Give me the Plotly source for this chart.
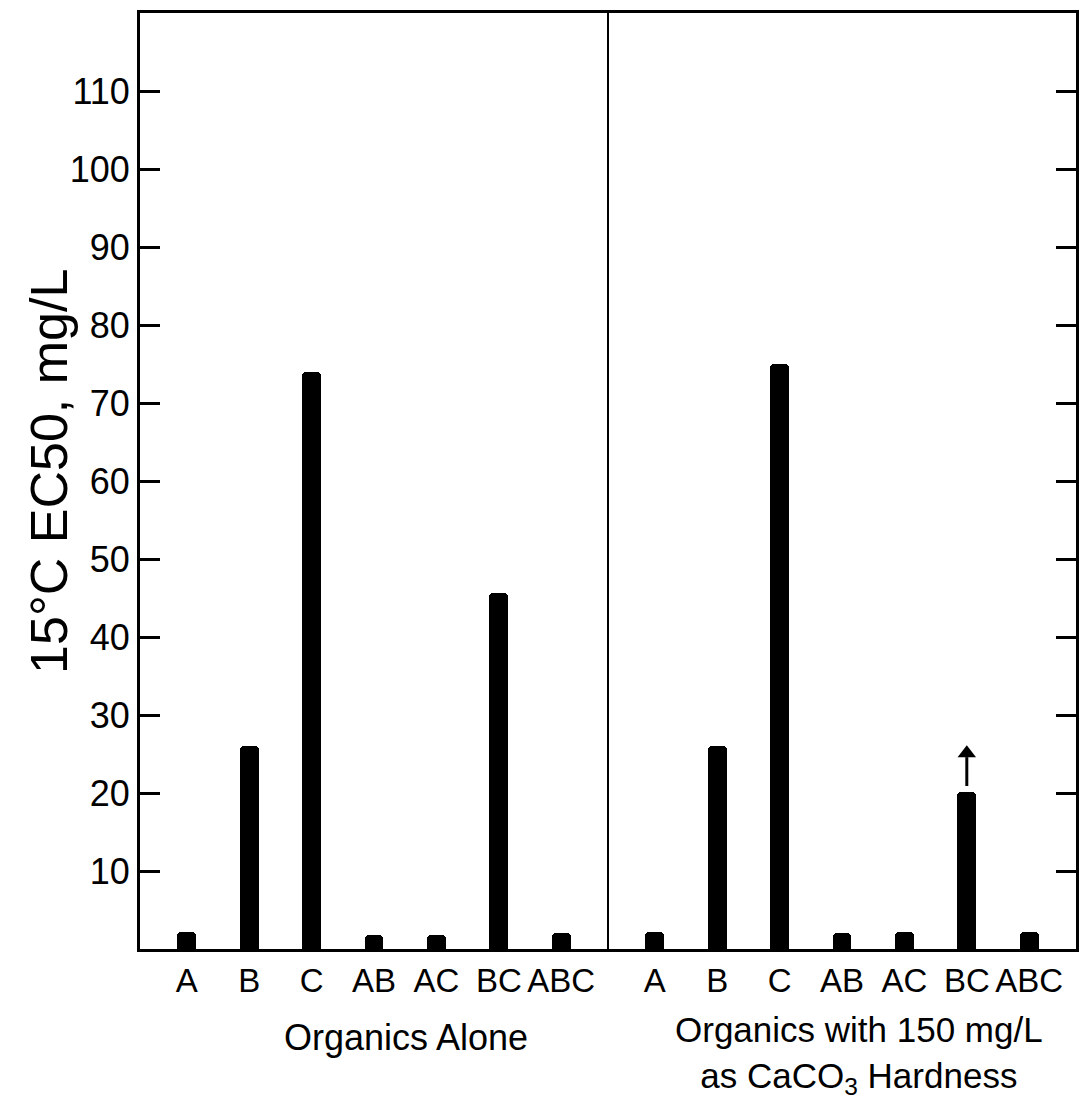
import plotly.graph_objects as go

categories = ["A", "B", "C", "AB", "AC", "BC", "ABC"]
organics_alone = [2.2, 26.0, 74.0, 1.8, 1.8, 45.7, 2.1]
organics_hardness = [2.2, 26.0, 75.0, 2.1, 2.2, 20.1, 2.2]
y_ticks = [10, 20, 30, 40, 50, 60, 70, 80, 90, 100, 110]
group_labels = ["Organics Alone", "Organics with 150 mg/L<br>as CaCO<sub>3</sub> Hardness"]
y_title = "15°C EC50, mg/L"

FONT = "Liberation Sans"

x_left = [i + 0.75 for i in range(len(categories))]
x_right = [i + 8.25 for i in range(len(categories))]

fig = go.Figure()
fig.add_trace(go.Bar(x=x_left, y=organics_alone, width=0.3,
                     marker=dict(color="black", line=dict(width=0), cornerradius=4),
                     showlegend=False, hoverinfo="skip"))
fig.add_trace(go.Bar(x=x_right, y=organics_hardness, width=0.3,
                     marker=dict(color="black", line=dict(width=0), cornerradius=4),
                     showlegend=False, hoverinfo="skip"))

# divider between the two panels
fig.add_shape(type="line", xref="x", yref="paper", x0=7.5, x1=7.5, y0=0, y1=1,
              line=dict(color="black", width=2))

# arrow above BC (hardness) bar: stem + head
bc_i = categories.index("BC")
bx = x_right[bc_i]
by = organics_hardness[bc_i]
fig.add_trace(go.Scatter(x=[bx, bx], y=[by + 0.8, by + 4.5], mode="lines",
                         line=dict(color="black", width=3), showlegend=False,
                         hoverinfo="skip"))
fig.add_trace(go.Scatter(x=[bx], y=[by + 5.0], mode="markers",
                         marker=dict(symbol="triangle-up", size=16, color="black"),
                         showlegend=False, hoverinfo="skip"))

# group labels
fig.add_annotation(x=4.27, y=-0.095, xref="x", yref="paper", text=group_labels[0],
                   showarrow=False, font=dict(family=FONT, size=36, color="black"),
                   xanchor="center", yanchor="middle")
fig.add_annotation(x=11.52, y=-0.113, xref="x", yref="paper", text=group_labels[1],
                   showarrow=False, font=dict(family=FONT, size=35, color="black"),
                   xanchor="center", yanchor="middle")

# y-axis title
fig.add_annotation(x=-0.098, y=0.51, xref="paper", yref="paper", text=y_title,
                   textangle=-90, showarrow=False, xanchor="center", yanchor="middle",
                   font=dict(family=FONT, size=52, color="black"))

fig.update_xaxes(range=[0, 15], tickvals=x_left + x_right,
                 ticktext=categories + categories, ticks="", showgrid=False,
                 zeroline=False, showline=True, linecolor="black", linewidth=3,
                 mirror=True, tickfont=dict(family=FONT, size=33, color="black"))
fig.update_yaxes(range=[0, 120], tickvals=y_ticks, ticks="inside", ticklen=20,
                 tickwidth=3, tickcolor="black", showgrid=False, zeroline=False,
                 showline=True, linecolor="black", linewidth=3, mirror="ticks",
                 tickfont=dict(family=FONT, size=36, color="black"))

fig.update_layout(width=1089, height=1102, plot_bgcolor="white", paper_bgcolor="white",
                  margin=dict(l=140, r=10, t=11, b=153), bargap=0)

fig.write_html("out.html")
